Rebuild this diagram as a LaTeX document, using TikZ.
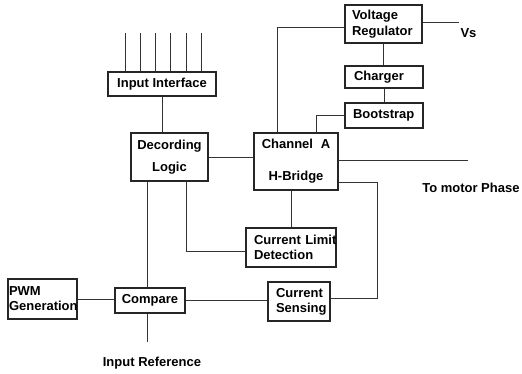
\documentclass[tikz,border=0pt]{standalone}
\usepackage{fontspec}
\setmainfont{Liberation Sans}
\begin{document}
\begin{tikzpicture}[x=0.75pt,y=-0.75pt,
  box/.style={draw=black!85, line width=0.9pt, inner sep=0pt, font=\bfseries\fontsize{9.75}{11.25}\selectfont},
  conn/.style={draw=black!80, line width=0.6pt},
  lbl/.style={font=\bfseries\fontsize{9.75}{11.25}\selectfont, inner sep=0pt}]
\useasboundingbox (0,0) rectangle (522,374);
% boxes
\node[box, minimum width=81pt, minimum height=18pt] (inif) at (162,84) {Input Interface};
\node[box, minimum width=57.75pt, minimum height=36pt, align=center, font=\bfseries\fontsize{9.75}{16.5}\selectfont] (dec) at (169.5,157) {Decording\\Logic};
\node[box, minimum width=63pt, minimum height=42.75pt, align=center, font=\bfseries\fontsize{9.75}{24}\selectfont] (cha) at (296,161.5) {Channel\hspace{0.6em}A\\H-Bridge};
\node[box, text width=47.25pt, inner xsep=5.25pt, minimum height=28.5pt, align=left, font=\bfseries\fontsize{9.75}{12}\selectfont] (vr) at (383.5,24) {Voltage\\Regulator};
\node[box, text width=45pt, inner xsep=6.75pt, minimum height=16.5pt, align=left] (chg) at (384,77) {Charger};
\node[box, text width=46.5pt, inner xsep=6pt, minimum height=18.75pt, align=left] (bs) at (384,115.5) {Bootstrap};
\node[box, text width=55.5pt, inner xsep=6pt, minimum height=29.25pt, align=left] (cld) at (291,247.5) {Current~Limit\\Detection};
\node[box, text width=34.5pt, inner xsep=6pt, minimum height=29.25pt, align=left] (cs) at (299,301.5) {Current\\Sensing};
\node[box, minimum width=52.5pt, minimum height=18.75pt] (cmp) at (150,300.5) {Compare};
\node[box, text width=50.25pt, inner xsep=0.75pt, minimum height=30pt, align=left] (pwm) at (42.5,299) {PWM\\Generation};
% labels
\node[lbl] (vs) at (468.5,33) {Vs};
\node[lbl, anchor=west] (motor) at (422,188) {To motor Phase};
\node[lbl] (iref) at (152,363) {Input Reference};
% coordinates
\foreach \i/\x in {1/125,2/140,3/155,4/170,5/186,6/201} {
  \coordinate (in\i) at (\x,33);
  \draw[conn] (in\i) -- (in\i |- inif.north);
}
\coordinate (x277) at (277,0);
\coordinate (x316) at (316,0);
\coordinate (x186) at (186,0);
\coordinate (x147) at (147,0);
\coordinate (vsend) at (459,22);
\coordinate (motend) at (468,160);
\coordinate (rr) at (377,182);
\coordinate (irefend) at (147,342);
% connectors
\draw[conn] (inif.south) -- (inif.south |- dec.north);
\draw[conn] (dec.east) -- (dec.east -| cha.west);
\draw[conn] (cha.north -| x277) |- ([yshift=-2.25pt]vr.west);
\draw[conn] (cha.north -| x316) |- (bs.west);
\draw[conn] (vr.south) -- (vr.south |- chg.north);
\draw[conn] (chg.south) -- (chg.south |- bs.north);
\draw[conn] (vr.east |- vsend) -- (vsend);
\draw[conn] (cha.east |- motend) -- (motend);
\draw[conn] (cha.east |- rr) -- (rr) |- ([yshift=2.6pt]cs.east);
\draw[conn] (cld.north) -- (cld.north |- cha.south);
\draw[conn] (dec.south -| x186) |- ([yshift=-2.6pt]cld.west);
\draw[conn] (dec.south -| x147) -- (cmp.north -| x147);
\draw[conn] (pwm.east) -- (pwm.east -| cmp.west);
\draw[conn] (cmp.east) -- (cmp.east -| cs.west);
\draw[conn] (cmp.south -| irefend) -- (irefend);
\end{tikzpicture}
\end{document}
